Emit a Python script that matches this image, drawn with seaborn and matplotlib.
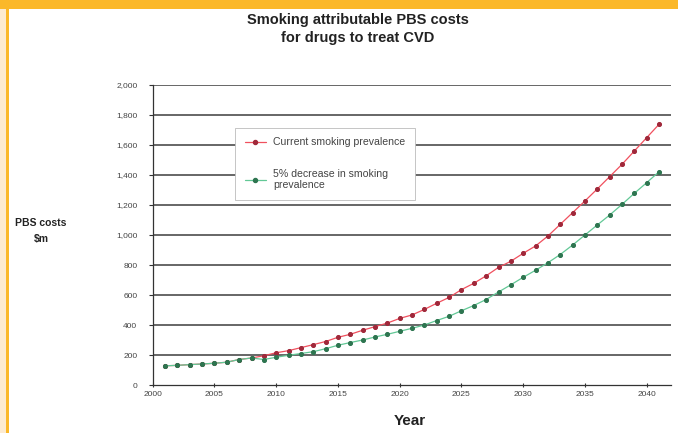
import numpy as np
import pandas as pd
import matplotlib
matplotlib.use("Agg")
import matplotlib.pyplot as plt
import seaborn as sns
from matplotlib.patches import Rectangle
from matplotlib.lines import Line2D

years = list(range(2001, 2042))
current = [128, 131, 136, 140, 145, 152, 170, 180,
           195, 215, 229, 249, 269, 290, 318, 338, 365, 389, 413, 444,
           467, 504, 545, 584, 636, 678, 728, 784, 825, 878, 927, 993,
           1071, 1149, 1227, 1307, 1389, 1471, 1560, 1649, 1738]
decrease = [128, 131, 136, 140, 145, 152, 170, 180,
            170, 185, 198, 210, 222, 242, 265, 283, 300, 320, 338, 358,
            378, 400, 430, 458, 495, 530, 570, 620, 668, 718, 765, 815,
            870, 933, 1000, 1067, 1133, 1204, 1278, 1349, 1422]
series_names = ["Current smoking prevalence", "5% decrease in smoking\nprevalence"]
x_ticks = [2000, 2005, 2010, 2015, 2020, 2025, 2030, 2035, 2040]
y_ticks = [0, 200, 400, 600, 800, 1000, 1200, 1400, 1600, 1800, 2000]

df = pd.DataFrame({
    "Year": years * 2,
    "Cost": current + decrease,
    "Series": [series_names[0]] * len(years) + [series_names[1]] * len(years),
})

sns.set_theme(style="white")
plt.rcParams['font.family'] = ['Liberation Sans', 'DejaVu Sans']

W, H = 678, 433
fig = plt.figure(figsize=(W / 100, H / 100), dpi=100)
fig.patch.set_facecolor("white")

# Orange frame
fig.add_artist(Rectangle((0, 0), 6 / W, 1, transform=fig.transFigure,
                         facecolor="#fdebd0", edgecolor="none", zorder=0))
fig.add_artist(Rectangle((6 / W, 0), 3 / W, 1, transform=fig.transFigure,
                         facecolor="#fbb829", edgecolor="none", zorder=0))
fig.add_artist(Rectangle((0, 1 - 9 / H), 1, 9 / H, transform=fig.transFigure,
                         facecolor="#fbb829", edgecolor="none", zorder=0))

left_px, right_px, top_px, bot_px = 152.7, 671.4, 85, 385
ax = fig.add_axes([left_px / W, 1 - bot_px / H, (right_px - left_px) / W, (bot_px - top_px) / H])

palette = {series_names[0]: "#f0505e", series_names[1]: "#62c896"}
mcols = ["#a0283a", "#2e7550"]
sns.lineplot(data=df, x="Year", y="Cost", hue="Series", palette=palette, ax=ax,
             linewidth=0.9, marker="o", markersize=2.9, legend=False, zorder=3)
for line, mc in zip(ax.get_lines(), mcols):
    line.set_markerfacecolor(mc)
    line.set_markeredgecolor(mc)

ax.set_xlim(2000, 2042)
ax.set_ylim(0, 2000)
ax.set_xticks(x_ticks)
ax.set_yticks(y_ticks)
ax.set_xticklabels([str(t) for t in x_ticks], fontsize=6, color="#444444")
ax.set_yticklabels([f"{t:,}" for t in y_ticks], fontsize=6, color="#444444")
ax.tick_params(axis="y", length=3, width=0.8, color="#333333", direction="out", pad=8, left=True)
ax.tick_params(axis="x", length=3, width=0.8, color="#333333", direction="inout", pad=3, bottom=True)

for y in y_ticks[1:]:
    ax.axhline(y, color="#5a5a5a", linewidth=1.3, zorder=1)

for s in ["top", "right"]:
    ax.spines[s].set_visible(False)
for s in ["left", "bottom"]:
    ax.spines[s].set_color("#333333")
    ax.spines[s].set_linewidth(0.9)

ax.set_xlabel("")
ax.set_ylabel("")

handles = [Line2D([], [], color=palette[n], marker="o", markersize=2.9, linewidth=0.9,
                  markerfacecolor=mc, markeredgecolor=mc) for n, mc in zip(series_names, mcols)]
leg = ax.legend(handles, series_names, loc="upper left", bbox_to_anchor=(0.159, 0.857),
                fontsize=7.6, frameon=True, fancybox=False, framealpha=1,
                edgecolor="#bbbbbb", labelspacing=2.0, handlelength=2.0,
                borderpad=0.9, borderaxespad=0, handletextpad=0.7)
for t in leg.get_texts():
    t.set_color("#444444")
    t.set_multialignment("left")
leg.get_frame().set_linewidth(0.6)
leg.set_zorder(5)

fig.text(358 / W, 1 - 20 / H, "Smoking attributable PBS costs", ha="center", va="center",
         fontsize=10.5, fontweight="bold", color="#222222")
fig.text(358 / W, 1 - 38 / H, "for drugs to treat CVD", ha="center", va="center",
         fontsize=10.5, fontweight="bold", color="#222222")
fig.text(41 / W, 1 - 231 / H, "PBS costs\n$m", ha="center", va="center",
         fontsize=7.5, fontweight="bold", color="#222222", linespacing=1.7)
fig.text(410 / W, 1 - 421 / H, "Year", ha="center", va="center",
         fontsize=11, fontweight="bold", color="#222222")

fig.savefig("out.png", dpi=100)
